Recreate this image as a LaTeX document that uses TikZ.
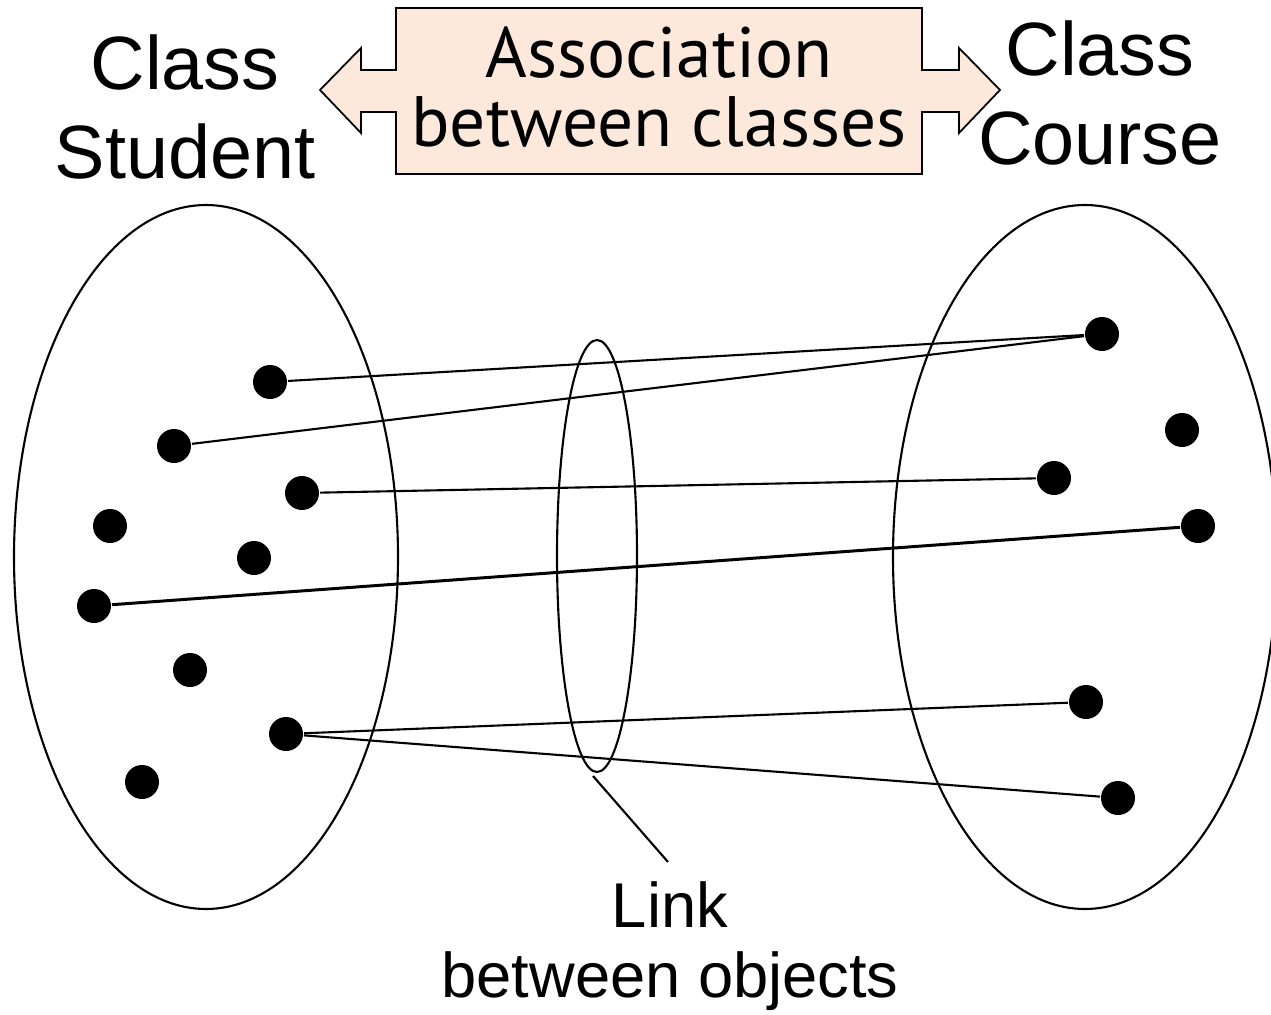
\documentclass[tikz,border=0pt]{standalone}
\usepackage{fontspec}
\setmainfont{Liberation Sans}
\newfontfamily\assocfont{PT Sans}
\usetikzlibrary{positioning}
\definecolor{peach}{RGB}{252,233,219}

\begin{document}
\begin{tikzpicture}[x=0.1mm,y=-0.1mm,line width=0.6pt,
  dot/.style={circle,fill,inner sep=0pt,minimum size=3.4mm},
  ttl/.style={align=center,inner sep=0pt,font=\fontsize{21.5}{25.6}\selectfont}]
\useasboundingbox (0,0) rectangle (1271,1015);
% the two classes as sets of objects
\draw (206,557) ellipse [x radius=19.2mm,y radius=35.2mm];
\draw (1085,557) ellipse [x radius=19.2mm,y radius=35.2mm];
\draw (597,556) ellipse [x radius=4mm,y radius=21.6mm];
% association arrow
\draw[fill=peach,line width=0.5pt] (396,8) -- (922,8) -- (922,70) -- (959,70) -- (959,48) -- (1000,90)
  -- (959,133) -- (959,112) -- (922,112) -- (922,174) -- (396,174) -- (396,112) -- (361,112)
  -- (361,133) -- (320,90) -- (361,48) -- (361,70) -- (396,70) -- cycle;
\node[align=center,inner sep=0pt,font=\assocfont\fontsize{20.3}{19.6}\selectfont] (assoc) at (659,87) {Association\\between classes};
\node[ttl] (student) at (185,107) {Class\\Student};
\node[ttl] (course) at (1100,93) {Class\\Course};
\node[ttl,font=\fontsize{18}{20}\selectfont] (link) at (670,946) {Link\\between objects};
\foreach \n/\x/\y in {s1/270/382,s2/174/446,s3/302/493,s4/110/526,s5/254/558,s6/94/606,s7/190/670,s8/286/734,s9/142/782,
  c1/1102/334,c2/1182/430,c3/1054/478,c4/1198/526,c5/1086/702,c6/1118/798}
  \node[dot] (\n) at (\x,\y) {};
\foreach \a/\b in {s1/c1,s2/c1,s3/c3,s8/c5,s8/c6} \draw (\a) -- (\b);
\draw[line width=0.85pt] (s6) -- (c4);
\coordinate (ptr) at (593,776);
\coordinate (ptrend) at (668,862);
\draw (ptr) -- (ptrend);
\end{tikzpicture}
\end{document}
